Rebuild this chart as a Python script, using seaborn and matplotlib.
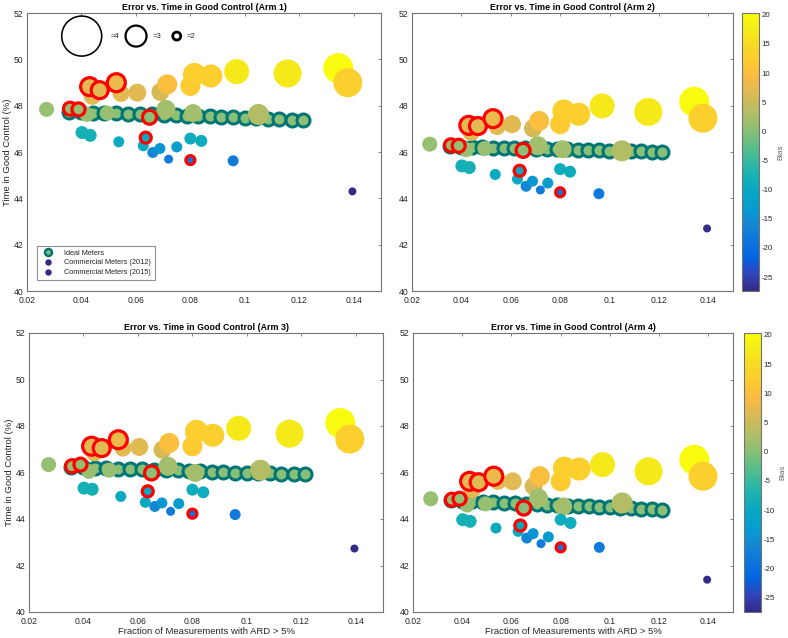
import numpy as np
import pandas as pd
import seaborn as sns
import matplotlib.pyplot as plt
from matplotlib.colors import LinearSegmentedColormap, Normalize
from matplotlib.lines import Line2D
import matplotlib.cm as cm

# parula-ish colour map (matlab default)
parula_pts = [
    (0.2081, 0.1663, 0.5292), (0.1959, 0.2645, 0.7279), (0.0117, 0.3875, 0.8820),
    (0.0498, 0.4586, 0.8641), (0.0793, 0.5200, 0.8312), (0.0265, 0.6137, 0.8135),
    (0.0228, 0.6535, 0.7768), (0.0843, 0.6928, 0.7062), (0.2178, 0.7250, 0.6193),
    (0.3953, 0.7459, 0.5244), (0.5709, 0.7485, 0.4494), (0.7184, 0.7411, 0.3905),
    (0.8507, 0.7299, 0.3360), (0.9739, 0.7314, 0.2666), (0.9955, 0.7861, 0.1967),
    (0.9697, 0.8481, 0.1475), (0.9598, 0.9218, 0.0948), (0.9763, 0.9831, 0.0538),
]
parula = LinearSegmentedColormap.from_list('parula', parula_pts)

bias_lim = (-27.4, 20.3)
bias_ticks = [-25, -20, -15, -10, -5, 0, 5, 10, 15, 20]
x_ticks = [0.02, 0.04, 0.06, 0.08, 0.1, 0.12, 0.14]
y_ticks = [40, 42, 44, 46, 48, 50, 52]
titles = ['Error vs. Time in Good Control (Arm 1)', 'Error vs. Time in Good Control (Arm 2)',
          'Error vs. Time in Good Control (Arm 3)', 'Error vs. Time in Good Control (Arm 4)']

# ideal meters
ideal_x = [0.0355, 0.0398, 0.0441, 0.0484, 0.0527, 0.0571, 0.0614, 0.0658, 0.0703, 0.0746, 0.0786,
           0.0829, 0.0871, 0.0913, 0.0956, 0.0999, 0.1042, 0.1085, 0.1126, 0.1172, 0.1212]
ideal_bias = 0.0
ideal_y1 = [47.74, 47.72, 47.70, 47.69, 47.67, 47.66, 47.64, 47.62, 47.61, 47.59, 47.57,
            47.56, 47.54, 47.52, 47.50, 47.48, 47.46, 47.44, 47.42, 47.40, 47.37]
ideal_y2 = [46.24, 46.23, 46.22, 46.21, 46.19, 46.18, 46.17, 46.16, 46.15, 46.13, 46.12,
            46.11, 46.10, 46.09, 46.07, 46.06, 46.05, 46.04, 46.03, 46.02, 46.00]
ideal_y3 = [46.24, 46.22, 46.20, 46.19, 46.17, 46.15, 46.14, 46.12, 46.10, 46.09, 46.07,
            46.05, 46.04, 46.02, 46.00, 45.99, 45.98, 45.96, 45.95, 45.94, 45.93]
ideal_y4 = [44.80, 44.78, 44.76, 44.74, 44.72, 44.70, 44.68, 44.66, 44.64, 44.62, 44.60,
            44.58, 44.56, 44.54, 44.52, 44.50, 44.48, 44.46, 44.44, 44.42, 44.40]

# commercial meters
meter_x = [0.0272, 0.0358, 0.0389, 0.0430, 0.0467, 0.0528, 0.0440, 0.0545, 0.0605, 0.0690,
           0.0715, 0.0800, 0.0815, 0.0875, 0.0970, 0.1157, 0.1343, 0.1378, 0.0710, 0.0810,
           0.1050, 0.0420, 0.0495, 0.0650, 0.0402, 0.0432, 0.0537, 0.0627, 0.0636, 0.0662,
           0.0688, 0.0720, 0.0750, 0.0800, 0.0840, 0.0800, 0.0957, 0.1395]
meter_bias = [1, 1, 1, 7, 7, 8, 7, 7, 7, 6,
              10, 12, 13, 13, 17, 17, 20.3, 13, 2, 2,
              3, 1, 1, 0, -8, -8, -10, -10, -10, -16,
              -14, -18, -13, -9, -9, -19, -18, -27.4]
meter_diam = [15, 13, 13, 18, 17, 18, 17, 17, 18, 18,
              20, 20, 23, 23, 25, 28, 30, 29, 19, 18,
              21, 15, 15, 14, 13, 13, 11, 11, 11, 11,
              11, 9, 11, 12, 12, 9, 11, 8]
meter_ring = [0, 1, 1, 1, 1, 1, 0, 0, 0, 0,
              0, 0, 0, 0, 0, 0, 0, 0, 0, 0,
              0, 0, 0, 1, 0, 0, 0, 0, 1, 0,
              0, 0, 0, 0, 0, 1, 0, 0]
meter_y1 = [47.84, 47.87, 47.84, 48.82, 48.67, 48.99, 48.40, 48.53, 48.56, 48.59,
            48.92, 48.85, 49.35, 49.28, 49.47, 49.39, 49.62, 48.99, 47.84, 47.68,
            47.62, 47.62, 47.68, 47.50, 46.84, 46.72, 46.44, 46.27, 46.62, 45.98,
            46.15, 45.69, 46.22, 46.58, 46.48, 45.65, 45.62, 44.30]
meter_y2 = [46.34, 46.29, 46.27, 47.15, 47.12, 47.44, 46.84, 47.10, 47.20, 47.02,
            47.34, 47.20, 47.77, 47.63, 47.99, 47.73, 48.17, 47.46, 46.27, 46.12,
            46.05, 46.10, 46.15, 46.07, 45.40, 45.33, 45.03, 44.83, 45.19, 44.52,
            44.74, 44.36, 44.66, 45.26, 45.15, 44.26, 44.20, 42.70]
meter_y3 = [46.34, 46.27, 46.34, 47.13, 47.05, 47.41, 46.85, 47.05, 47.10, 46.98,
            47.27, 47.13, 47.77, 47.60, 47.90, 47.67, 48.13, 47.44, 46.27, 45.98,
            46.10, 46.05, 46.10, 45.98, 45.33, 45.28, 44.97, 44.72, 45.19, 44.54,
            44.69, 44.33, 44.66, 45.26, 45.15, 44.23, 44.19, 42.73]
meter_y4 = [44.87, 44.83, 44.87, 45.62, 45.58, 45.84, 45.25, 45.62, 45.62, 45.41,
            45.84, 45.62, 46.19, 46.15, 46.34, 46.05, 46.55, 45.84, 44.90, 44.54,
            44.69, 44.60, 44.65, 44.47, 43.97, 43.90, 43.61, 43.47, 43.72, 43.18,
            43.37, 42.94, 43.23, 43.97, 43.83, 42.78, 42.78, 41.39]

DPI = 100
PT = 72.0 / DPI
norm = Normalize(*bias_lim)
teal = (0.0, 0.46, 0.46)
gray = (0.45, 0.45, 0.45)
txt = (0.15, 0.15, 0.15)


def px2s(d):
    return (np.asarray(d, dtype=float) * PT) ** 2


def style_axes(ax, title, left, bottom):
    ax.set_xlim(0.02, 0.15)
    ax.set_ylim(40, 52)
    ax.set_xticks(x_ticks)
    ax.set_xticklabels(['0.02', '0.04', '0.06', '0.08', '0.1', '0.12', '0.14'])
    ax.set_yticks(y_ticks)
    ax.tick_params(direction='in', length=2.5, width=0.6, color=gray, labelsize=6.2,
                   labelcolor=txt, top=True, right=True)
    ax.tick_params(axis='x', pad=3.5)
    ax.tick_params(axis='y', pad=2.5)
    for s in ax.spines.values():
        s.set_color(gray)
        s.set_linewidth(0.8)
    ax.set_title(title, fontsize=6.4, fontweight='bold', color='black', pad=2.5)
    ax.set_xlabel('Fraction of Measurements with ARD > 5%' if bottom else '', fontsize=6.8,
                  color=txt, labelpad=1)
    ax.set_ylabel('Time in Good Control (%)' if left else '', fontsize=6.8, color=txt, labelpad=1)


def draw_arm(ax, iy, my):
    di = pd.DataFrame({'x': ideal_x, 'y': iy})
    sns.scatterplot(data=di, x='x', y='y', color=parula(norm(ideal_bias)), s=px2s(13),
                    edgecolor=teal, linewidth=3 * PT, ax=ax, legend=False, zorder=2)
    dm = pd.DataFrame({'x': meter_x, 'y': my, 'bias': meter_bias,
                       'area': px2s(meter_diam), 'ring': meter_ring})
    lo, hi = dm['area'].min(), dm['area'].max()
    plain = dm[dm['ring'] == 0]
    ring = dm[dm['ring'] == 1]
    sns.scatterplot(data=plain, x='x', y='y', hue='bias', hue_norm=norm, palette=parula,
                    size='area', sizes=(lo, hi), size_norm=(lo, hi), linewidth=0,
                    ax=ax, legend=False, zorder=3)
    sns.scatterplot(data=ring, x='x', y='y', hue='bias', hue_norm=norm, palette=parula,
                    size='area', sizes=(lo, hi), size_norm=(lo, hi), edgecolor='red',
                    linewidth=3.2 * PT, ax=ax, legend=False, zorder=4)


def add_cbar(fig, rect):
    cax = fig.add_axes(rect)
    sm = cm.ScalarMappable(norm=norm, cmap=parula)
    cb = fig.colorbar(sm, cax=cax)
    cb.set_ticks(bias_ticks)
    cb.ax.tick_params(direction='in', length=2.5, width=0.6, color=gray, labelsize=5.6,
                      labelcolor=txt, pad=2)
    cb.outline.set_edgecolor(gray)
    cb.outline.set_linewidth(0.8)
    cb.set_label('Bias', fontsize=5.8, color=(0.4, 0.4, 0.4), labelpad=3)


sns.set_style('white')
plt.rcParams['font.family'] = ['Liberation Sans', 'DejaVu Sans']
plt.rcParams['axes.unicode_minus'] = False

fig = plt.figure(figsize=(7.88, 6.38), dpi=DPI)
W, H = 788.0, 638.0
rects = [(27, 13, 354, 278), (412, 13, 321, 278), (29, 333, 354, 279), (413, 333, 320, 279)]
ideal_sets = [ideal_y1, ideal_y2, ideal_y3, ideal_y4]
meter_sets = [meter_y1, meter_y2, meter_y3, meter_y4]
axes = []
for i, (l, t, w, h) in enumerate(rects):
    ax = fig.add_axes([l / W, 1 - (t + h) / H, w / W, h / H])
    draw_arm(ax, ideal_sets[i], meter_sets[i])
    style_axes(ax, titles[i], left=(i % 2 == 0), bottom=(i >= 2))
    axes.append(ax)

add_cbar(fig, [742 / W, 1 - 291 / H, 17 / W, 278 / H])
add_cbar(fig, [744 / W, 1 - 612 / H, 17 / W, 279 / H])

# size key on the first panel
ax = axes[0]
for fx, d, lw, lab, tx in [(0.1545, 40, 1.6, '=4', 0.236), (0.308, 21, 2.2, '=3', 0.355),
                           (0.423, 8, 2.8, '=2', 0.452)]:
    ax.scatter([fx], [0.917], s=px2s(d), facecolor='none', edgecolor='black',
               linewidth=lw * PT, transform=ax.transAxes, zorder=5)
    ax.text(tx, 0.917, lab, transform=ax.transAxes, fontsize=5.5, va='center', ha='left',
            color=txt)

handles = [
    Line2D([], [], ls='', marker='o', markersize=7 * PT, markerfacecolor=parula(norm(0)),
           markeredgecolor=teal, markeredgewidth=2.5 * PT),
    Line2D([], [], ls='', marker='o', markersize=5 * PT, markerfacecolor=parula(0.0),
           markeredgecolor=parula(0.0)),
    Line2D([], [], ls='', marker='o', markersize=5 * PT, markerfacecolor=parula(0.0),
           markeredgecolor=parula(0.0)),
]
leg = ax.legend(handles, ['Ideal Meters', 'Commercial Meters (2012)', 'Commercial Meters (2015)'],
                loc='lower left', bbox_to_anchor=(0.028, 0.04), fontsize=5.3, frameon=True,
                fancybox=False, borderpad=0.5, handletextpad=1.2, labelspacing=0.35,
                handlelength=2.0, borderaxespad=0)
leg.get_frame().set_edgecolor(gray)
leg.get_frame().set_linewidth(0.8)
for t in leg.get_texts():
    t.set_color(txt)

fig.savefig('out.png', dpi=DPI)
